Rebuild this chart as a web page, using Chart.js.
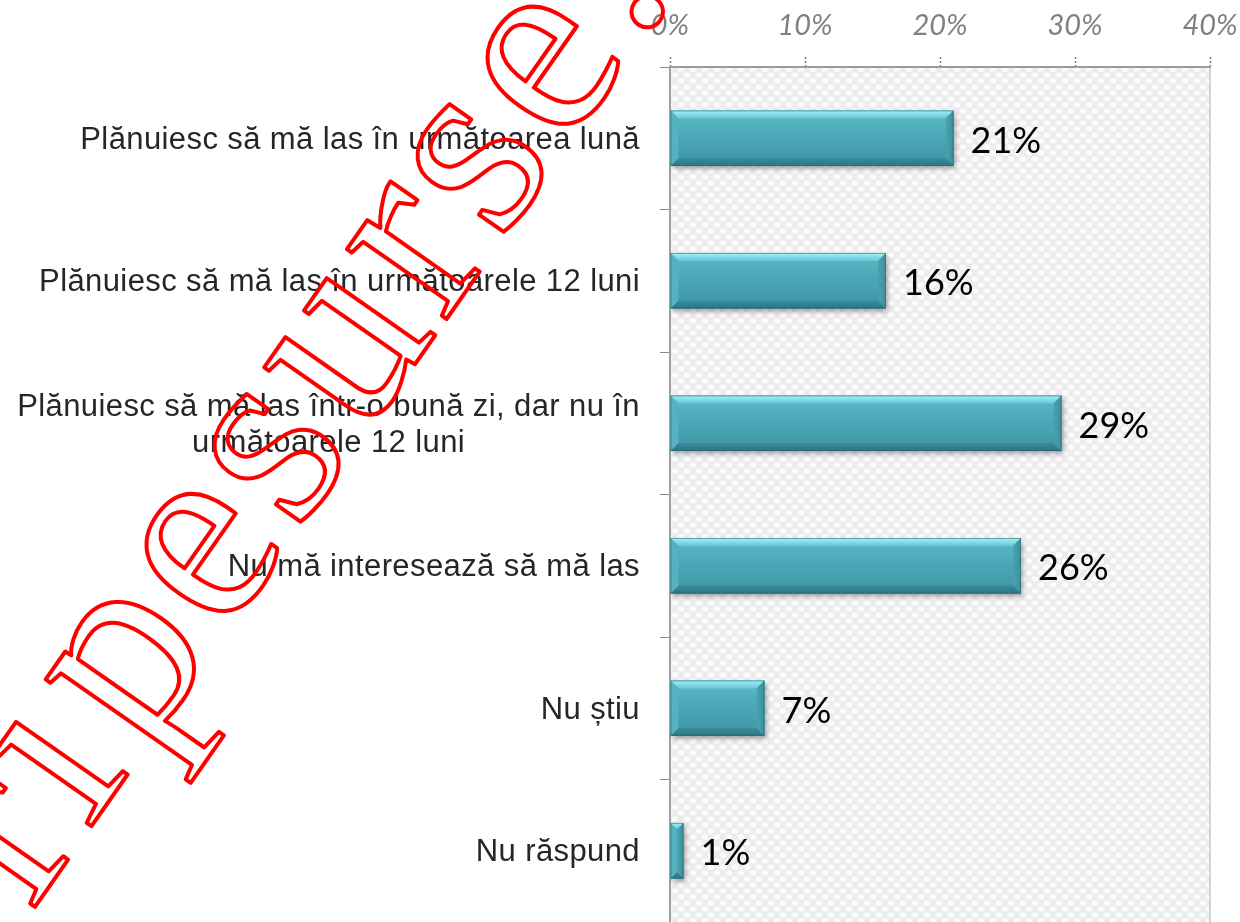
<!DOCTYPE html>
<html><head><meta charset="utf-8">
<script src="https://cdn.jsdelivr.net/npm/chart.js@4/dist/chart.umd.min.js"></script>
<style>html,body{margin:0;padding:0;background:#fff;overflow:hidden}#wrap{width:1240px;height:922px;position:relative}</style>
</head><body><div id="wrap"><canvas id="c" width="1240" height="922"></canvas></div>
<script>
const categories = [
  ["Plănuiesc să mă las în următoarea lună"],
  ["Plănuiesc să mă las în următoarele 12 luni"],
  ["Plănuiesc să mă las într-o bună zi, dar nu în", "următoarele 12 luni"],
  ["Nu mă interesează să mă las"],
  ["Nu știu"],
  ["Nu răspund"]
];
const values = [21, 16, 29, 26, 7, 1];
const xTicks = [0, 10, 20, 30, 40];
const watermarkText = ["ri", "pesurse."];

// background pattern
const pc = document.createElement('canvas'); pc.width = 12; pc.height = 12;
const pctx = pc.getContext('2d');
pctx.fillStyle = '#ececec'; pctx.fillRect(0, 0, 12, 12);
pctx.fillStyle = '#fbfbfb';
[[3,3],[9,9],[15,3],[-3,9],[3,15],[9,-3]].forEach(([x,y]) => { pctx.beginPath(); pctx.ellipse(x, y, 3.3, 2.7, 0, 0, Math.PI*2); pctx.fill(); });

const bgPlugin = {
  id: 'bg',
  beforeDraw(chart) {
    const {ctx, chartArea: a} = chart;
    ctx.save();
    ctx.fillStyle = '#fff'; ctx.fillRect(0, 0, chart.width, chart.height);
    ctx.fillStyle = ctx.createPattern(pc, 'repeat');
    ctx.fillRect(a.left, a.top, a.right - a.left, a.bottom - a.top);
    ctx.strokeStyle = '#c8c8c8'; ctx.lineWidth = 1.5;
    ctx.beginPath(); ctx.moveTo(a.right, a.top); ctx.lineTo(a.right, a.bottom); ctx.stroke();
    ctx.restore();
  },
  beforeDatasetsDraw(chart) {
    const ctx = chart.ctx;
    ctx.save();
    ctx.shadowColor = 'rgba(0,0,0,0.35)'; ctx.shadowBlur = 5; ctx.shadowOffsetX = 2; ctx.shadowOffsetY = 3;
  },
  afterDatasetsDraw(chart) {
    const ctx = chart.ctx;
    ctx.restore();
    const meta = chart.getDatasetMeta(0);
    const poly = (pts, fill) => { ctx.beginPath(); pts.forEach(([x,y],i)=> i?ctx.lineTo(x,y):ctx.moveTo(x,y)); ctx.closePath(); ctx.fillStyle = fill; ctx.fill(); };
    meta.data.forEach((bar, i) => {
      const {x, y, base, height} = bar.getProps(['x','y','base','height'], true);
      const x0 = base, x1 = x, yt = y - height/2, yb = y + height/2;
      const b = Math.min(8, (x1 - x0) / 2);
      ctx.save();
      let g = ctx.createLinearGradient(0, yt, 0, yb);
      g.addColorStop(0, '#5cbac9'); g.addColorStop(0.5, '#4aa6b5'); g.addColorStop(1, '#3d94a3');
      ctx.fillStyle = g; ctx.fillRect(x0, yt, x1 - x0, height);
      g = ctx.createLinearGradient(0, yt, 0, yt + b);
      g.addColorStop(0, '#a2f1f9'); g.addColorStop(1, '#68c6d4');
      poly([[x0,yt],[x1,yt],[x1-b,yt+b],[x0+b,yt+b]], g);
      g = ctx.createLinearGradient(0, yb - b, 0, yb);
      g.addColorStop(0, '#3a8c9a'); g.addColorStop(1, '#2c7480');
      poly([[x0,yb],[x1,yb],[x1-b,yb-b],[x0+b,yb-b]], g);
      g = ctx.createLinearGradient(x1 - b, 0, x1, 0);
      g.addColorStop(0, '#4aa3b2'); g.addColorStop(1, '#3b8f9d');
      poly([[x1,yt],[x1,yb],[x1-b,yb-b],[x1-b,yt+b]], g);
      poly([[x0,yt],[x0,yb],[x0+b,yb-b],[x0+b,yt+b]], '#55b3c1');
      ctx.strokeStyle = 'rgba(40,100,110,0.55)'; ctx.lineWidth = 1;
      ctx.strokeRect(x0 + 0.5, yt + 0.5, x1 - x0 - 1, height - 1);
      // value label
      ctx.fillStyle = '#000';
      ctx.font = '36px Lato';
      ctx.textAlign = 'left'; ctx.textBaseline = 'middle';
      ctx.fillText(values[i] + '%', x1 + 17, y + 3);
      ctx.restore();
    });
  },
  afterDraw(chart) {
    const {ctx} = chart;
    const ys = chart.scales.y;
    // category labels
    ctx.save();
    ctx.font = '31px "Liberation Sans"';
    try { ctx.letterSpacing = '0.4px'; } catch (e) {}
    ctx.fillStyle = '#262626';
    ctx.textBaseline = 'middle';
    ctx.textAlign = 'center';
    const xR = 640, lh = 36;
    categories.forEach((lines, i) => {
      const cy = ys.getPixelForValue(i);
      const w = Math.max(...lines.map(l => ctx.measureText(l).width));
      const cx = xR - w / 2;
      lines.forEach((l, k) => {
        ctx.fillText(l, cx, cy + 2 + (k - (lines.length - 1) / 2) * lh);
      });
    });
    ctx.restore();
    // watermark
    ctx.save();
    ctx.strokeStyle = '#ff0000'; ctx.lineWidth = 4; ctx.lineJoin = 'round';
    ctx.font = '265px "Liberation Serif"';
    try { ctx.letterSpacing = '10px'; } catch (e) {}
    ctx.translate(142, 754); ctx.rotate(-55 * Math.PI / 180);
    ctx.textBaseline = 'alphabetic';
    ctx.textAlign = 'right'; ctx.strokeText(watermarkText[0], -10, 0);
    ctx.textAlign = 'left'; ctx.strokeText(watermarkText[1], 0, 0);
    ctx.restore();
  }
};

new Chart(document.getElementById('c'), {
  type: 'bar',
  data: {
    labels: categories,
    datasets: [{ data: values, backgroundColor: '#4aa6b5', borderWidth: 0, barPercentage: 0.39, categoryPercentage: 1 }]
  },
  options: {
    responsive: false, animation: false, devicePixelRatio: 1, indexAxis: 'y',
    layout: { padding: { left: 0, right: 30, top: 0, bottom: 0 } },
    plugins: { legend: { display: false }, tooltip: { enabled: false } },
    scales: {
      x: {
        position: 'top', min: 0, max: 40,
        afterBuildTicks: s => { s.ticks = xTicks.map(v => ({ value: v })); },
        afterFit: s => { s.height = 67; s.paddingLeft = 0; s.paddingRight = 0; },
        ticks: { callback: v => v + '%', color: '#808080', font: { family: 'Lato', style: 'italic', size: 29 }, padding: 14, maxRotation: 0 },
        grid: { drawOnChartArea: false, drawTicks: true, tickLength: 10, color: '#7a7a7a', tickBorderDash: [2, 2], tickWidth: 1.5 },
        border: { display: true, color: '#9a9a9a', dash: [2, 2], width: 2 }
      },
      y: {
        afterFit: s => { s.width = 670; s.paddingTop = 0; s.paddingBottom = 0; },
        ticks: { display: false },
        grid: { drawOnChartArea: false, tickLength: 10, color: '#8c8c8c', offset: true },
        border: { color: '#a0a0a0', width: 2 }
      }
    }
  },
  plugins: [bgPlugin]
});
</script>
</body></html>
